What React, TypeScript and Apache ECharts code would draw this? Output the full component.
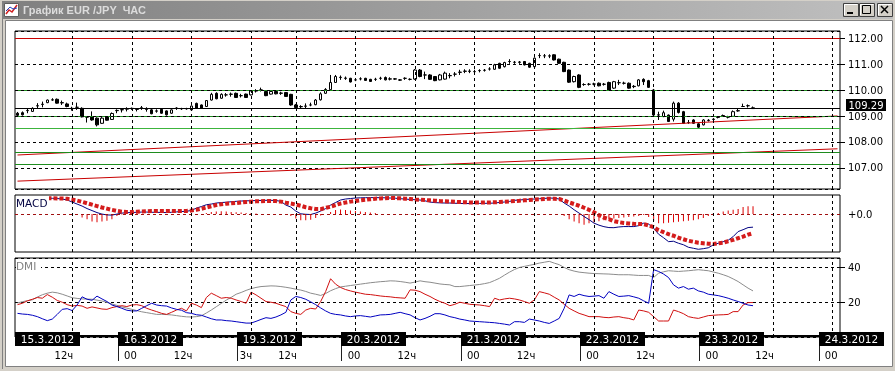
import React, { useEffect, useRef } from 'react';
import * as echarts from 'echarts';

const SLOTS = 166;

const openP = [109.11,109.13,109.21,109.18,109.39,109.46,109.52,109.62,109.65,109.52,
109.47,109.30,109.34,109.30,108.96,108.96,108.92,108.72,108.96,108.87,
109.21,109.24,109.28,109.29,109.26,109.31,109.27,109.24,109.19,109.26,
109.20,109.11,109.30,109.28,109.29,109.24,109.49,109.43,109.37,109.62,
109.88,109.69,109.82,109.84,109.88,109.79,109.85,109.82,109.98,110.01,
109.95,109.85,109.95,109.88,109.91,109.84,109.43,109.36,109.38,109.43,
109.44,109.63,109.88,110.02,110.30,110.49,110.47,110.46,110.40,110.44,
110.46,110.42,110.42,110.46,110.49,110.43,110.44,110.40,110.46,110.42,
110.43,110.78,110.59,110.59,110.53,110.40,110.43,110.56,110.62,110.69,
110.73,110.74,110.72,110.76,110.77,110.82,110.81,111.04,110.91,111.11,
111.08,111.09,111.11,111.04,110.91,111.34,111.33,111.32,111.37,111.20,
111.08,110.78,110.33,110.59,110.22,110.23,110.24,110.27,110.23,110.30,
110.08,110.29,110.27,110.27,110.15,110.17,110.42,110.37,110.01,109.04,
108.98,109.04,108.88,109.50,109.17,108.75,108.85,108.70,108.66,108.83,
108.88,108.95,109.01,108.96,108.99,109.20,109.37,109.40,109.32];

const closeP = [109.03,109.05,109.22,109.30,109.40,109.45,109.62,109.63,109.50,109.51,
109.37,109.29,109.34,108.97,108.96,108.85,108.66,108.92,108.84,109.10,
109.22,109.25,109.27,109.30,109.27,109.32,109.26,109.09,109.20,109.11,
109.05,109.24,109.31,109.29,109.28,109.39,109.30,109.30,109.60,109.84,
109.67,109.84,109.82,109.85,109.72,109.79,109.72,109.97,109.97,110.01,
109.79,109.95,109.86,109.89,109.76,109.43,109.33,109.37,109.39,109.43,
109.62,109.86,110.03,110.30,110.53,110.50,110.46,110.32,110.40,110.44,
110.38,110.34,110.42,110.46,110.40,110.44,110.43,110.39,110.46,110.42,
110.78,110.53,110.59,110.42,110.37,110.59,110.66,110.57,110.62,110.70,
110.74,110.73,110.72,110.76,110.77,110.82,110.98,110.85,111.07,111.11,
111.08,111.08,110.98,110.89,111.24,111.34,111.33,111.33,111.17,111.04,
110.72,110.31,110.53,110.11,110.22,110.23,110.24,110.17,110.23,110.01,
110.33,110.29,110.27,110.08,110.14,110.40,110.33,110.11,109.04,109.05,
109.13,108.79,109.50,109.14,108.72,108.75,108.72,108.57,108.85,108.84,
108.87,108.96,109.02,108.96,109.17,109.21,109.37,109.40,109.29];

const highP = [109.16,109.18,109.29,109.34,109.50,109.56,109.64,109.69,109.68,109.60,
109.52,109.36,109.52,109.34,109.00,109.18,108.95,108.96,108.98,109.14,
109.26,109.30,109.34,109.33,109.30,109.39,109.34,109.27,109.26,109.28,
109.22,109.26,109.34,109.32,109.32,109.41,109.52,109.45,109.62,109.90,
109.92,109.88,109.89,109.91,109.91,109.86,109.87,109.99,110.04,110.10,
109.97,109.98,109.97,109.94,109.93,109.86,109.47,109.42,109.49,109.52,
109.66,109.92,110.08,110.59,110.59,110.57,110.53,110.48,110.46,110.50,
110.48,110.44,110.48,110.52,110.53,110.50,110.47,110.43,110.50,110.46,
110.82,110.82,110.72,110.62,110.55,110.63,110.72,110.66,110.70,110.79,
110.81,110.81,110.79,110.81,110.82,110.89,111.02,111.06,111.10,111.20,
111.13,111.13,111.13,111.06,111.27,111.43,111.40,111.39,111.39,111.22,
111.10,110.80,110.56,110.62,110.27,110.28,110.29,110.30,110.28,110.33,
110.36,110.40,110.33,110.30,110.20,110.43,110.46,110.40,110.05,109.17,
109.21,109.06,109.56,109.54,109.20,108.85,108.88,108.72,108.88,108.88,
108.92,108.99,109.06,109.01,109.22,109.30,109.48,109.45,109.37];

const lowP = [109.00,109.02,109.11,109.16,109.30,109.34,109.50,109.59,109.48,109.43,
109.34,109.21,109.24,108.95,108.75,108.82,108.60,108.70,108.82,108.85,
109.11,109.14,109.18,109.24,109.18,109.24,109.17,109.07,109.13,109.09,
109.02,109.09,109.24,109.24,109.25,109.22,109.28,109.28,109.35,109.60,
109.65,109.67,109.75,109.75,109.70,109.72,109.70,109.80,109.91,109.95,
109.77,109.83,109.84,109.82,109.74,109.40,109.30,109.30,109.31,109.38,
109.42,109.60,109.86,110.00,110.28,110.40,110.40,110.30,110.35,110.38,
110.36,110.32,110.36,110.40,110.38,110.38,110.40,110.36,110.40,110.38,
110.40,110.50,110.43,110.40,110.35,110.38,110.41,110.46,110.53,110.59,
110.66,110.66,110.66,110.69,110.72,110.76,110.79,110.83,110.88,111.02,
111.02,111.02,110.96,110.87,110.89,111.24,111.24,111.24,111.15,111.02,
110.70,110.28,110.30,110.08,110.17,110.18,110.19,110.15,110.18,109.99,
110.05,110.20,110.22,110.06,110.08,110.15,110.20,110.09,109.00,108.85,
108.96,108.77,108.79,109.10,108.70,108.70,108.70,108.54,108.64,108.79,
108.83,108.91,108.97,108.91,108.97,109.17,109.35,109.33,109.28];

const macdLine = [0.140,0.145,0.150,0.152,0.155,0.157,0.158,0.157,0.155,0.150,
0.140,0.120,0.100,0.080,0.055,0.035,0.015,0.000,-0.008,-0.010,
0.000,0.010,0.014,0.016,0.018,0.020,0.020,0.018,0.018,0.016,
0.015,0.018,0.022,0.025,0.028,0.036,0.060,0.075,0.093,0.100,
0.110,0.115,0.118,0.123,0.127,0.130,0.132,0.133,0.135,0.136,
0.137,0.137,0.135,0.127,0.090,0.070,0.030,0.003,-0.002,-0.004,
0.010,0.030,0.055,0.090,0.115,0.140,0.150,0.155,0.160,0.162,
0.163,0.164,0.164,0.163,0.162,0.160,0.158,0.153,0.150,0.146,
0.143,0.140,0.132,0.120,0.114,0.112,0.110,0.110,0.108,0.106,
0.105,0.105,0.105,0.106,0.107,0.108,0.110,0.116,0.120,0.126,
0.137,0.140,0.145,0.148,0.150,0.153,0.156,0.160,0.158,0.150,
0.110,0.080,0.043,0.010,-0.024,-0.055,-0.090,-0.110,-0.125,-0.134,
-0.135,-0.128,-0.124,-0.124,-0.124,-0.115,-0.090,-0.100,-0.140,-0.200,
-0.235,-0.274,-0.270,-0.290,-0.305,-0.330,-0.340,-0.350,-0.344,-0.335,
-0.307,-0.290,-0.274,-0.260,-0.224,-0.174,-0.155,-0.134,-0.130];

const signalLine = [0.150,0.152,0.154,0.155,0.156,0.157,0.157,0.157,0.156,0.155,
0.152,0.145,0.135,0.122,0.108,0.094,0.080,0.066,0.054,0.042,
0.032,0.024,0.020,0.020,0.023,0.026,0.028,0.030,0.030,0.030,
0.030,0.030,0.030,0.030,0.031,0.036,0.043,0.053,0.066,0.078,
0.090,0.097,0.103,0.107,0.110,0.115,0.120,0.124,0.127,0.129,
0.130,0.130,0.130,0.124,0.114,0.105,0.095,0.083,0.068,0.058,
0.050,0.050,0.062,0.074,0.090,0.105,0.115,0.124,0.130,0.137,
0.143,0.148,0.153,0.156,0.158,0.160,0.159,0.157,0.153,0.150,
0.146,0.143,0.140,0.137,0.134,0.130,0.128,0.126,0.122,0.120,
0.118,0.116,0.115,0.115,0.115,0.116,0.118,0.120,0.123,0.127,
0.130,0.133,0.137,0.141,0.144,0.147,0.150,0.153,0.152,0.150,
0.135,0.116,0.100,0.083,0.063,0.043,0.018,-0.010,-0.035,-0.050,
-0.070,-0.080,-0.088,-0.093,-0.097,-0.099,-0.100,-0.112,-0.130,-0.160,
-0.180,-0.200,-0.215,-0.235,-0.250,-0.265,-0.275,-0.285,-0.290,-0.295,
-0.297,-0.290,-0.284,-0.270,-0.257,-0.240,-0.224,-0.205,-0.190];

const macdHist = [0,0,0,0,0,0,0,0,0,0,
0,0,-0.010,-0.034,-0.050,-0.074,-0.080,-0.074,-0.067,-0.050,
-0.020,-0.005,0,0,0,0,0,0,0,0,
0,0,0,0,0,0,0,0,0.010,0.020,
0.025,0.028,0.025,0.020,0.018,0.015,0.012,0.010,0.006,0,
0,0,0,0,0,-0.020,-0.045,-0.060,-0.060,-0.055,
-0.040,-0.015,0,0.020,0.040,0.045,0.040,0.035,0.030,0.025,
0.020,0.015,0.010,0,0,0,0,0,0,0,
0,0,0,0,0,0,0,0,0,0,
0,0,0,0,0,0,0,0,0,0,
0,0,0,0,0,0,0,0,0,0,
-0.020,-0.050,-0.074,-0.090,-0.107,-0.090,-0.083,-0.070,-0.060,-0.050,
-0.045,-0.040,-0.035,-0.030,-0.025,-0.020,-0.010,-0.030,-0.070,-0.090,
-0.090,-0.085,-0.080,-0.075,-0.070,-0.065,-0.060,-0.050,-0.040,-0.020,
0.005,0.010,0.027,0.036,0.043,0.050,0.070,0.077,0.077];

const adxLine = [19.6,20.3,20.9,21.4,23.0,24.3,25.2,25.8,25.4,24.6,
23.6,22.6,22.2,21.9,21.8,21.7,21.2,20.7,19.9,19.0,
18.2,17.3,16.6,15.9,15.2,14.5,14.0,13.5,13.0,13.0,
12.9,12.7,12.3,11.9,11.6,11.5,11.7,12.2,13.8,15.5,
17.4,19.3,21.2,22.8,24.6,25.6,26.8,27.8,28.5,29.0,
29.2,29.4,29.3,29.0,28.6,28.1,27.5,27.0,26.2,25.2,
24.6,23.9,25.0,26.6,27.8,28.8,29.2,29.6,30.0,30.4,
30.8,31.2,31.5,31.8,32.0,32.3,32.2,31.9,31.5,31.0,
31.6,32.3,31.8,31.5,31.0,30.5,30.2,30.0,29.0,29.0,
29.3,29.6,29.9,30.2,30.7,31.3,32.5,33.8,35.6,37.3,
38.8,40.0,40.6,41.2,41.8,42.5,43.0,43.5,42.5,41.6,
40.0,38.7,37.9,37.3,37.0,36.7,36.5,36.4,36.3,36.2,
36.0,35.8,35.8,35.8,35.6,35.4,35.4,35.4,34.2,36.7,
37.5,38.1,37.9,37.7,37.9,38.1,38.4,38.7,38.4,38.1,
37.4,36.7,35.8,34.8,33.4,31.9,30.0,28.1,26.5];

const diMinus = [18.6,19.4,20.8,21.7,22.7,22.3,24.4,22.9,21.0,20.0,
18.6,17.8,18.2,17.8,16.5,17.3,16.7,16.1,15.9,16.9,
17.5,18.0,17.5,18.4,18.6,18.0,16.5,15.5,14.6,13.6,
13.0,14.2,15.5,16.5,15.0,19.4,18.4,16.9,22.7,25.2,
23.8,22.3,22.7,22.3,21.3,20.4,19.4,25.8,24.2,22.3,
20.4,20.0,19.4,18.4,17.5,14.6,13.6,13.0,15.5,16.5,
16.1,20.4,26.1,33.5,30.4,28.5,27.3,26.5,25.8,25.2,
24.6,24.4,24.0,23.6,23.3,23.1,22.7,22.5,22.3,27.1,
26.9,26.1,24.6,23.3,21.7,20.4,19.4,18.0,18.8,20.0,
19.4,18.8,18.6,18.4,18.0,17.5,22.3,21.3,21.9,22.3,
21.9,21.3,20.4,19.4,21.3,26.1,25.4,24.6,22.9,21.3,
18.8,16.5,15.0,13.6,12.7,11.7,11.7,11.7,11.3,11.1,
11.5,11.7,11.1,10.7,9.8,15.5,15.0,14.2,11.7,9.2,
9.2,9.2,15.5,14.6,13.4,11.7,11.1,10.7,11.5,12.3,
12.5,12.7,12.8,13.0,14.6,14.6,18.4,19.8,19.8];

const diPlus = [13.6,13.2,13.0,12.5,11.7,10.5,9.4,10.3,13.0,15.9,
16.3,15.2,18.4,23.1,21.7,21.1,23.5,21.9,20.4,18.4,
17.5,16.5,15.4,15.0,15.0,16.5,18.0,19.4,18.4,18.0,
17.8,16.7,15.9,15.4,14.0,13.6,12.8,12.5,11.5,10.5,
9.8,9.8,9.4,9.2,8.8,8.4,8.0,8.0,9.0,10.1,
11.1,10.7,11.5,12.7,14.2,21.3,23.3,22.7,21.7,20.2,
18.6,16.7,15.0,13.6,13.0,12.7,12.1,11.7,12.1,12.3,
11.9,11.5,12.1,12.7,12.8,13.0,13.6,14.2,13.4,12.7,
11.1,9.8,10.7,11.9,13.4,13.4,12.7,11.7,11.1,10.3,
9.8,9.2,9.0,8.8,8.6,8.4,8.2,7.8,7.4,6.9,
8.8,8.8,8.4,10.3,9.8,9.2,8.4,7.8,9.2,10.7,
16.5,24.2,23.3,24.6,23.8,23.3,23.5,23.8,22.3,26.1,
24.6,23.3,23.5,23.8,23.1,22.3,20.8,19.4,38.7,37.7,
36.2,34.2,30.0,28.1,29.0,27.5,28.1,26.5,25.8,24.6,
24.2,23.8,23.1,22.3,21.3,20.4,19.4,18.4,18.0];

const gridTicks = [11, 23, 35, 47, 56, 68, 80, 92, 104, 116, 128, 140, 152, 164];
const hourLabels = ['12ч', '00', '12ч', '3ч', '12ч', '00', '12ч', '00', '12ч', '00', '12ч', '00', '12ч', '00'];
const dayLabels = ['15.3.2012', '16.3.2012', '19.3.2012', '20.3.2012', '21.3.2012', '22.3.2012', '23.3.2012', '24.3.2012'];
const dayFirstTick = [-1, 23, 47, 68, 92, 116, 140, 164];

const redLevels = [112.0];
const greenLevels = [110.0, 109.0, 108.53, 107.6, 107.14];
const lastPrice = 109.29;
const trendStartVals = [107.495, 106.484];
const trendEndVals = [109.005, 107.735];
const priceRange = [106.18, 112.29];
const macdRange = [-0.377, 0.19];
const dmiRange = [0, 45.43];

const FONT = 'DejaVu Sans';

export default function App() {
  const ref = useRef<HTMLDivElement>(null);
  useEffect(() => {
    document.body.style.margin = '0';
    const el = ref.current!;
    const chart = echarts.init(el, null, { renderer: 'svg' });
    const cats = Array.from({ length: SLOTS }, (_, i) => String(i));
    const candles = openP.map((o, i) => [o, closeP[i], lowP[i], highP[i]]);
    const dash = [3, 3];
    const vLines = gridTicks.map((i) => ({ xAxis: i, lineStyle: { color: '#000', type: dash, width: 1 } }));
    const lblStyle = { color: '#000', fontSize: 10, fontFamily: FONT, margin: 8, lineHeight: 10 };
    const mlBase = { silent: true, symbol: ['none', 'none'], label: { show: false }, animation: false };

    const option: any = {
      animation: false,
      textStyle: { fontFamily: FONT },
      grid: [
        { left: 15, top: 31, width: 825, height: 158, show: true, borderColor: '#000', borderWidth: 1, backgroundColor: 'transparent' },
        { left: 15, top: 195, width: 825, height: 57, show: true, borderColor: '#000', borderWidth: 1, backgroundColor: 'transparent' },
        { left: 15, top: 258, width: 825, height: 79, show: true, borderColor: '#000', borderWidth: 1, backgroundColor: 'transparent' },
      ],
      xAxis: [0, 1, 2].map((g) => ({ type: 'category', gridIndex: g, data: cats, boundaryGap: true, show: false })),
      yAxis: [
        {
          type: 'value', gridIndex: 0, position: 'right', min: priceRange[0], max: priceRange[1],
          axisLine: { show: false },
          axisTick: { show: true, length: 5, lineStyle: { color: '#000' } },
          splitLine: { show: true, lineStyle: { color: '#000', type: dash } },
          axisLabel: {
            ...lblStyle, showMinLabel: false, showMaxLabel: false,
            formatter: (v: number) => (Math.abs(v - Math.round(v)) < 1e-6 ? v.toFixed(2) : ''),
          },
        },
        {
          type: 'value', gridIndex: 1, position: 'right', min: macdRange[0], max: macdRange[1],
          axisLine: { show: false }, axisTick: { show: false }, splitLine: { show: false },
          axisLabel: { ...lblStyle, showMinLabel: false, showMaxLabel: false, formatter: (v: number) => (Math.abs(v) < 1e-9 ? '+0.0' : '') },
        },
        {
          type: 'value', gridIndex: 2, position: 'right', min: dmiRange[0], max: dmiRange[1], interval: 20,
          axisLine: { show: false },
          axisTick: { show: true, length: 5, lineStyle: { color: '#000' } },
          splitLine: { show: true, lineStyle: { color: '#000', type: dash } },
          axisLabel: { ...lblStyle, showMinLabel: false, showMaxLabel: false, formatter: (v: number) => (v === 20 || v === 40 ? String(v) : '') },
        },
      ],
      series: [
        {
          type: 'candlestick', name: 'EURJPY', xAxisIndex: 0, yAxisIndex: 0, data: candles, barWidth: 3,
          itemStyle: { color: '#fff', color0: '#000', borderColor: '#000', borderColor0: '#000', borderWidth: 1 },
          markLine: {
            ...mlBase,
            data: [
              [{ coord: [0, trendStartVals[0]] }, { coord: [SLOTS - 1, trendEndVals[0]] }],
              [{ coord: [0, trendStartVals[1]] }, { coord: [SLOTS - 1, trendEndVals[1]] }],
              ...greenLevels.map((v, k) => ({ yAxis: v, lineStyle: { color: k === 2 ? '#3cb43c' : '#1e8c1e', type: 'solid', width: 1 } })),
              ...redLevels.map((v) => ({ yAxis: v, lineStyle: { color: '#c80000', type: 'solid', width: 1 } })),
              { yAxis: lastPrice, lineStyle: { color: '#000', type: 'solid', width: 1 } },
              ...greenLevels.slice(0, 2).map((v) => ({ yAxis: v, lineStyle: { color: '#000', type: dash, width: 1 } })),
              ...vLines,
            ],
            lineStyle: { color: '#c80000', type: 'solid', width: 1 },
          },
        },
        {
          type: 'bar', name: 'hist', xAxisIndex: 1, yAxisIndex: 1, data: macdHist, barWidth: 1,
          itemStyle: { color: '#dd0000' },
          markLine: {
            ...mlBase,
            data: [{ yAxis: 0, lineStyle: { color: '#a01010', type: dash, width: 1 } }, ...vLines],
          },
        },
        {
          type: 'line', name: 'MACD', xAxisIndex: 1, yAxisIndex: 1, data: macdLine, symbol: 'none',
          lineStyle: { color: '#000080', width: 1 },
        },
        {
          type: 'line', name: 'Signal', xAxisIndex: 1, yAxisIndex: 1, data: signalLine, symbol: 'none',
          lineStyle: { color: '#d41c1c', width: 4, type: [4, 2], cap: 'butt' },
        },
        {
          type: 'line', name: 'ADX', xAxisIndex: 2, yAxisIndex: 2, data: adxLine, symbol: 'none',
          lineStyle: { color: '#8c8c8c', width: 1 },
          markLine: { ...mlBase, data: vLines },
        },
        {
          type: 'line', name: '-DI', xAxisIndex: 2, yAxisIndex: 2, data: diMinus, symbol: 'none',
          lineStyle: { color: '#d01010', width: 1 },
        },
        {
          type: 'line', name: '+DI', xAxisIndex: 2, yAxisIndex: 2, data: diPlus, symbol: 'none',
          lineStyle: { color: '#0000c0', width: 1 },
        },
      ],
    };
    chart.setOption(option);

    const px = (i: number) => chart.convertToPixel({ xAxisIndex: 2 }, i) as number;
    const py = Math.round(chart.convertToPixel({ yAxisIndex: 0 }, lastPrice) as number);
    const els: any[] = [];
    // window frame
    els.push({ type: 'rect', z: -30, silent: true, shape: { x: 0, y: 0, width: 895, height: 371 }, style: { fill: '#d4d0c8' } });
    els.push({ type: 'rect', z: -29, silent: true, shape: { x: 2, y: 1, width: 891, height: 18 },
      style: { fill: new echarts.graphic.LinearGradient(0, 0, 1, 0, [{ offset: 0, color: '#808080' }, { offset: 1, color: '#c0c0c0' }]) } });
    els.push({ type: 'rect', z: -29, silent: true, shape: { x: 5.5, y: 20.5, width: 887, height: 346 }, style: { fill: '#fff', stroke: '#808080', lineWidth: 1 } });
    els.push({ type: 'line', z: -28, silent: true, shape: { x1: 2.5, y1: 19, x2: 2.5, y2: 369 }, style: { stroke: '#808080', lineWidth: 1 } });
    // icon
    els.push({ type: 'rect', z: -28, silent: true, shape: { x: 4.5, y: 3.5, width: 14, height: 13 }, style: { fill: '#fff', stroke: '#606060', lineWidth: 1 } });
    els.push({ type: 'polyline', z: -27, silent: true, shape: { points: [[6, 14], [9, 10], [12, 12], [17, 5]] }, style: { stroke: '#d02020', lineWidth: 1.5, fill: 'none' } });
    els.push({ type: 'polyline', z: -27, silent: true, shape: { points: [[6, 11], [10, 7], [13, 9], [17, 8]] }, style: { stroke: '#2040c0', lineWidth: 1, fill: 'none' } });
    els.push({ type: 'text', z: -27, silent: true, x: 23, y: 10, style: { text: 'График EUR /JPY  ЧАС', fill: '#dcdcdc', fontSize: 11, fontWeight: 'bold', fontFamily: 'Liberation Sans', verticalAlign: 'middle' } });
    // caption buttons
    [843, 859, 877].forEach((bx, k) => {
      els.push({ type: 'rect', z: -27, silent: true, shape: { x: bx + 0.5, y: 3.5, width: 15, height: 13 }, style: { fill: '#d4d0c8', stroke: '#404040', lineWidth: 1 } });
      els.push({ type: 'polyline', z: -26, silent: true, shape: { points: [[bx + 1.5, 15], [bx + 1.5, 4.5], [bx + 14.5, 4.5]] }, style: { stroke: '#fff', lineWidth: 1, fill: 'none' } });
      if (k === 0) els.push({ type: 'rect', z: -26, silent: true, shape: { x: bx + 4, y: 12, width: 6, height: 2 }, style: { fill: '#000' } });
      if (k === 1) els.push({ type: 'rect', z: -26, silent: true, shape: { x: bx + 3.5, y: 5.5, width: 8, height: 8 }, style: { fill: 'none', stroke: '#000', lineWidth: 1 } });
      if (k === 2) {
        els.push({ type: 'line', z: -26, silent: true, shape: { x1: bx + 4, y1: 6, x2: bx + 11, y2: 13 }, style: { stroke: '#000', lineWidth: 1.5 } });
        els.push({ type: 'line', z: -26, silent: true, shape: { x1: bx + 11, y1: 6, x2: bx + 4, y2: 13 }, style: { stroke: '#000', lineWidth: 1.5 } });
      }
    });
    // current price tag
    els.push({ type: 'rect', z: 65, silent: true, shape: { x: 846, y: py - 10, width: 40, height: 12 }, style: { fill: '#000' } });
    els.push({ type: 'text', z: 66, silent: true, x: 866, y: py - 4, style: { text: lastPrice.toFixed(2), fill: '#fff', fontSize: 10, lineHeight: 10, fontFamily: FONT, align: 'center', verticalAlign: 'middle' } });
    // indicator titles
    els.push({ type: 'rect', z: 60, silent: true, shape: { x: 16, y: 196, width: 33, height: 13 }, style: { fill: '#fff' } });
    els.push({ type: 'text', z: 61, silent: true, x: 16, y: 203, style: { text: 'MACD', fill: '#000040', fontSize: 10.5, fontFamily: FONT, verticalAlign: 'middle' } });
    els.push({ type: 'rect', z: 60, silent: true, shape: { x: 16, y: 260, width: 25, height: 12 }, style: { fill: '#fff' } });
    els.push({ type: 'text', z: 61, silent: true, x: 16, y: 266, style: { text: 'DMI', fill: '#808080', fontSize: 10.5, fontFamily: FONT, verticalAlign: 'middle' } });
    // time axis strip
    els.push({ type: 'rect', z: 70, silent: true, shape: { x: 15, y: 335, width: 825, height: 2 }, style: { fill: '#000' } });
    dayLabels.forEach((lab, d) => {
      const left = d === 0 ? 15 : Math.round(px(dayFirstTick[d])) - 14;
      els.push({ type: 'rect', z: 71, silent: true, shape: { x: left, y: 332, width: 65, height: 14 }, style: { fill: '#000' } });
      els.push({ type: 'text', z: 72, silent: true, x: left + 32.5, y: 339, style: { text: lab, fill: '#fff', fontSize: 10.5, fontFamily: FONT, align: 'center', verticalAlign: 'middle' } });
      if (d > 0) els.push({ type: 'line', z: 71, silent: true, shape: { x1: left + 0.5, y1: 346, x2: left + 0.5, y2: 361 }, style: { stroke: '#202020', lineWidth: 1 } });
    });
    hourLabels.forEach((lab, k) => {
      const x = px(gridTicks[k]) + (lab === '00' ? 5 : 1);
      els.push({ type: 'text', z: 72, silent: true, x, y: 355, style: { text: lab, fill: '#000', fontSize: 10, fontFamily: FONT, align: 'right', verticalAlign: 'middle' } });
    });
    chart.setOption({ graphic: { elements: els } });

    return () => chart.dispose();
  }, []);
  return <div ref={ref} style={{ width: 895, height: 371, position: 'fixed', left: 0, top: 0 }} />;
}
